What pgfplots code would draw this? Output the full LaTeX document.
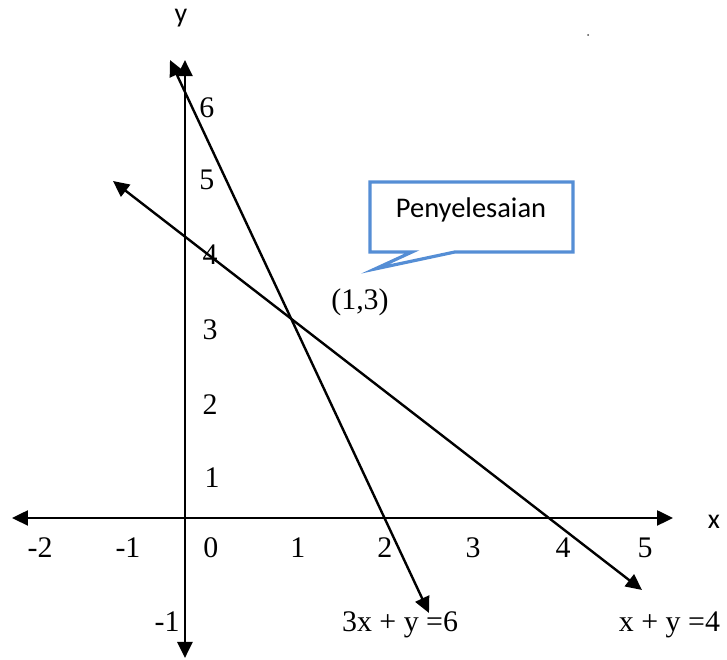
\documentclass[border=0pt]{standalone}
\usepackage{fontspec}
\setmainfont{Liberation Serif}
\setsansfont{Carlito}
\usepackage{pgfplots}
\pgfplotsset{compat=1.18}
\usetikzlibrary{arrows.meta}
\definecolor{calloutblue}{RGB}{85,142,213}
\begin{document}
\begin{tikzpicture}
\begin{axis}[
  scale only axis, width=363.5bp, height=329.5bp,
  xmin=-2.1149, xmax=6.2414, ymin=-1.9054, ymax=7.0,
  hide axis, clip=false]
\path (rel axis cs:0,0) rectangle (rel axis cs:1,1);
% axes
\addplot[black, line width=1.2bp, {Triangle[length=8bp,width=7.5bp]}-{Triangle[length=8bp,width=7.5bp]}] coordinates {(-1.977,0) (5.621,0)};
\addplot[black, line width=1.2bp, {Triangle[length=8bp,width=7.5bp]}-{Triangle[length=8bp,width=7.5bp]}] coordinates {(0.011,-1.892) (0.011,6.189)};
% lines
\addplot[black, line width=1.2bp, {Triangle[length=8bp,width=7.5bp]}-{Triangle[length=8bp,width=7.5bp]}] coordinates {(-0.161,6.189) (2.816,-1.284)};
\addplot[black, line width=1.2bp, {Triangle[length=8bp,width=7.5bp]}-{Triangle[length=8bp,width=7.5bp]}] coordinates {(-0.816,4.554) (5.264,-0.973)};
% callout
\draw[calloutblue, line width=1.6bp, fill=white, line join=miter]
  (axis cs:2.138,4.541) -- (axis cs:4.471,4.541) -- (axis cs:4.471,3.595)
  -- (axis cs:3.115,3.595) -- (axis cs:2.195,3.365) -- (axis cs:2.621,3.595)
  -- (axis cs:2.138,3.595) -- cycle;
\node[font=\sffamily\fontsize{14.3}{17}\selectfont] at (axis cs:3.299,4.162) {Penyelesaian};
% tick labels
\begin{scope}[every node/.style={font=\fontsize{15}{18}\selectfont, inner sep=0pt}]
\node at (axis cs:-1.655,-0.405) {-2};
\node at (axis cs:-0.644,-0.405) {-1};
\node at (axis cs:0.310,-0.405) {0};
\node at (axis cs:1.310,-0.405) {1};
\node at (axis cs:2.310,-0.405) {2};
\node at (axis cs:3.322,-0.405) {3};
\node at (axis cs:4.356,-0.405) {4};
\node at (axis cs:5.299,-0.405) {5};
\node at (axis cs:0.264,5.541) {6};
\node at (axis cs:0.264,4.568) {5};
\node at (axis cs:0.299,3.554) {4};
\node at (axis cs:0.299,2.541) {3};
\node at (axis cs:0.299,1.527) {2};
\node at (axis cs:0.322,0.541) {1};
\node at (axis cs:-0.195,-1.405) {-1};
\node at (axis cs:2.023,2.919) {(1,3)};
\node at (axis cs:2.483,-1.446) {3x + y =6};
\node at (axis cs:5.580,-1.446) {x + y =4};
\end{scope}
\node[font=\sffamily\fontsize{14}{17}\selectfont, inner sep=0pt] at (axis cs:-0.034,6.757) {y};
\node[font=\sffamily\fontsize{14}{17}\selectfont, inner sep=0pt] at (axis cs:6.092,-0.054) {x};
\fill[black!70] (axis cs:4.644,6.527) circle (0.5bp);
\end{axis}
\end{tikzpicture}
\end{document}
